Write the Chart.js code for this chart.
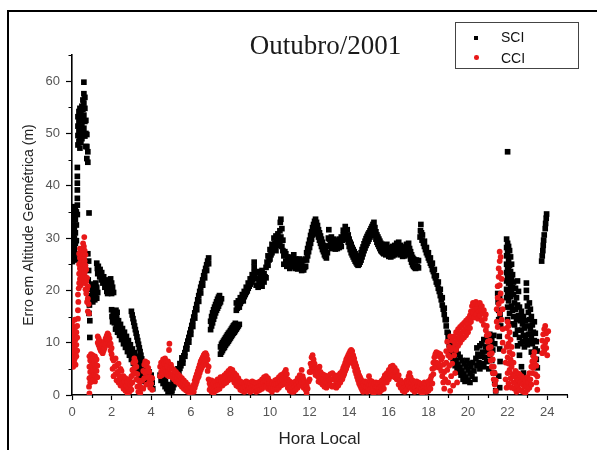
<!DOCTYPE html>
<html lang="pt-BR">
<head>
<meta charset="utf-8">
<title>Outubro/2001</title>
<script src="https://cdn.jsdelivr.net/npm/chart.js"></script>
<style>
  html, body { margin: 0; padding: 0; background: #fff; overflow: hidden; }
  #wrap { position: relative; width: 597px; height: 450px; overflow: hidden; }
  #frame { position: absolute; left: 7px; top: 10px; width: 640px; height: 480px;
           border-left: 2px solid #000; border-top: 2px solid #000; }
  #myChart { position: absolute; left: 0; top: 0; }
  #titulo { position: absolute; left: 225px; top: 32px; width: 201px; text-align: center;
            font-family: "Liberation Serif", "Times New Roman", serif; font-size: 27px;
            line-height: 27px; color: #1a1a1a; white-space: nowrap; }
  #legenda { position: absolute; left: 455px; top: 22px; width: 124px; height: 47px;
             box-sizing: border-box; border: 1.5px solid #444; background: #fff;
             font-family: "Liberation Sans", Arial, sans-serif; font-size: 14px; color: #111; }
  #legenda span { position: absolute; line-height: 16px; }
  .mk { position: absolute; }
</style>
</head>
<body>
<div id="wrap">
  <canvas id="myChart" width="597" height="450"></canvas>
  <div id="frame"></div>
  <div id="titulo">Outubro/2001</div>
  <div id="legenda">
    <div class="mk" style="left:18px;top:12.5px;width:4px;height:4px;background:#000;"></div>
    <span style="left:45px;top:5.5px;">SCI</span>
    <div class="mk" style="left:18px;top:32px;width:4.6px;height:4.6px;border-radius:50%;background:#e81818;"></div>
    <span style="left:45px;top:27px;">CCI</span>
  </div>
</div>
<script>
"use strict";

const horaTicks = [0, 2, 4, 6, 8, 10, 12, 14, 16, 18, 20, 22, 24];
const horaMinor = [1, 3, 5, 7, 9, 11, 13, 15, 17, 19, 21, 23, 25];
const erroTicks = [0, 10, 20, 30, 40, 50, 60];
const erroMinor = [5, 15, 25, 35, 45, 55, 65];

// SCI: [hora local, erro (m)]
const sci = [
    [0.02,25.5],[0.02,27.5],[0.02,29.5],[0.02,31.5],[0.02,33.5],[0.02,35.5],
    [0.07,26.5],[0.07,28.5],[0.07,30.5],[0.07,32.5],[0.07,34.5],
    [0.12,25.8],[0.12,28],[0.12,30],[0.12,32],[0.12,34],[0.12,36],
    [0.17,27],[0.17,29],[0.17,31],[0.17,33.5],[0.17,35.5],
    [0.22,26],[0.22,29.5],[0.22,32.5],[0.22,35],
    [0.27,34.5],[0.27,36.3],[0.27,37.6],[0.27,39.2],[0.27,40.5],[0.27,41.8],[0.27,43.5],
    [0.3,47.8],[0.3,49.6],[0.3,51.4],[0.3,53.2],
    [0.35,48.5],[0.35,50.4],[0.35,52.3],[0.35,54.2],
    [0.4,47.2],[0.4,49.2],[0.4,51],[0.4,53],[0.4,54.8],
    [0.45,48.3],[0.45,50.3],[0.45,52.4],[0.45,54],
    [0.5,49],[0.5,51.3],[0.5,53.4],[0.5,55.2],
    [0.55,50],[0.55,52.4],[0.55,54.6],[0.55,56.4],
    [0.6,51],[0.6,53.5],[0.6,55.8],[0.6,57.6],[0.6,59.8],
    [0.65,49.5],[0.65,52.3],[0.65,54.8],[0.65,56.9],
    [0.7,47.5],[0.7,50],[0.7,52.5],
    [0.75,45.2],[0.75,47.5],[0.75,49.8],
    [0.8,44.5],[0.8,46.5],
    [0.86,34.8],[0.8,27],[0.84,25.6],[0.84,23.8],[0.82,22],[0.86,20.5],[0.84,18.8],
    [0.88,17.2],[0.86,15.6],[0.9,14.2],[0.9,11],
    [0.95,18],[0.95,20.2],[1.0,19],[1.0,21.2],[1.05,17.8],[1.05,20],[1.1,18.8],[1.1,21],
    [1.15,18.2],[1.15,20.4],[1.2,19.2],[1.2,21.4],[1.25,18.5],[1.25,20.6],[1.3,19.6],
    [1.25,25.2],[1.28,24.2],[1.3,23.2],[1.33,24.6],[1.36,23.6],[1.4,22.6],[1.42,24],[1.45,23],
    [1.48,22],[1.5,23.4],[1.53,22.4],[1.56,21.4],[1.6,22.6],[1.63,21.6],[1.66,20.6],[1.7,21.8],
    [1.73,20.8],[1.76,19.8],[1.8,21],[1.8,19.4],[1.85,22],[1.85,20.4],[1.9,21.2],[1.9,19.6],
    [1.95,22.2],[1.95,20.2],[2.0,21.4],[2.0,19.4],[2.05,20.6],[2.1,19.6],
    [2.0,16.3],[2.02,15],[2.05,14],[2.08,16],[2.1,14.8],[2.14,13.8],[2.18,15.5],[2.22,16.2],
    [2.25,14.5],[2.28,15.8],[2.3,13.5],
    [2.2,12.6],[2.2,14.6],[2.25,13.3],[2.25,15],[2.3,12],[2.3,13.9],[2.35,12.8],[2.35,14.2],
    [2.4,11.4],[2.4,13.2],[2.45,12],[2.45,13.5],[2.5,10.6],[2.5,12.3],[2.55,11.3],[2.55,12.7],
    [2.6,9.8],[2.6,11.6],[2.65,10.6],[2.65,12],[2.7,9.1],[2.7,10.9],[2.75,9.8],[2.75,11.2],
    [2.8,8.3],[2.8,10],[2.85,9],[2.85,10.4],[2.9,7.6],[2.9,9.3],[2.95,8.3],[2.95,9.6],
    [3.0,6.8],[3.0,8.6],[3.05,7.5],[3.05,8.8],[3.1,6.1],[3.1,7.8],[3.15,6.8],[3.15,8.1],
    [3.2,5.3],[3.2,7.1],[3.25,6.1],[3.25,7.4],[3.3,4.6],[3.3,6.3],[3.35,5.3],[3.35,6.6],
    [3.4,3.8],[3.4,5.6],[3.45,4.6],[3.45,5.9],[3.5,3.1],[3.5,4.9],[3.55,3.8],[3.6,2.6],[3.6,4.2],
    [3.0,16],[3.04,15.3],[3.08,14.6],[3.12,13.9],[3.16,13.2],[3.2,12.5],[3.24,11.8],[3.28,11.1],
    [3.32,10.4],[3.36,9.7],[3.4,9],[3.44,8.3],[3.48,7.6],[3.52,6.9],[3.56,6.2],[3.6,5.5],
    [3.65,5.2],[3.7,3.6],[3.7,5.6],[3.75,4.4],[3.8,2.8],[3.8,5],[3.85,3.6],[3.9,2.2],[3.9,4.4],
    [3.95,3],[4.0,1.6],[4.0,3.8],[4.05,2.4],[4.08,1.2],
    [4.45,3.8],[4.5,2.8],[4.55,3.6],[4.6,2.2],[4.65,3],[4.7,1.6],[4.72,2.6],[4.78,1.2],[4.8,2],
    [4.85,0.7],[4.88,1.5],[4.92,0.3],[4.95,1],[5.0,0.4],
    [5.0,1.2],[5.05,0.8],[5.05,1.9],[5.1,1.4],[5.1,2.5],[5.15,2.0],[5.15,3],[5.2,2.4],[5.2,3.4],
    [5.25,2.9],[5.25,4],[5.3,3.4],[5.3,4.4],[5.35,4],[5.35,5],[5.4,4.5],[5.45,5.1],[5.45,6],
    [5.5,5.6],[5.55,6.2],[5.55,7.1],[5.6,6.8],[5.65,7.5],[5.7,8.1],[5.75,8.9],[5.8,9.6],
    [5.85,10.3],[5.9,11],[5.95,11.8],[6.0,12.5],[6.05,13.3],[6.1,14.1],[6.15,14.9],[6.2,15.7],
    [6.25,16.5],[6.3,17.3],[6.35,18.2],[6.4,19],[6.45,19.8],[6.5,20.6],[6.55,21.3],[6.6,22],
    [6.65,22.8],[6.7,23.5],[6.75,24.2],[6.8,24.9],[6.85,25.6],[6.9,26.2],
    [5.6,6.1],[5.7,7.4],[5.8,8.8],[5.9,10.1],[6.0,11.6],[6.1,13.1],[6.2,14.7],[6.3,16.3],
    [6.4,17.9],[6.5,19.5],[6.6,21],[6.7,22.4],[6.8,23.8],[6.9,25.1],
    [7.0,12.5],[7.0,14.1],[7.05,13.2],[7.05,15],[7.1,13.8],[7.1,15.7],[7.15,14.5],[7.15,16.3],
    [7.2,15.1],[7.2,16.8],[7.25,15.7],[7.25,17.3],[7.3,16.2],[7.3,17.8],[7.35,16.6],[7.35,18.3],
    [7.4,17],[7.4,18.7],[7.45,17.5],[7.45,19],[7.5,17.8],[7.55,18.4],
    [7.5,7.8],[7.5,9.2],[7.55,8.2],[7.55,9.7],[7.6,8.5],[7.6,10],[7.65,8.9],[7.65,10.3],
    [7.7,9.1],[7.7,10.6],[7.75,9.5],[7.75,10.9],[7.8,9.8],[7.8,11.2],[7.85,10],[7.85,11.5],
    [7.9,10.3],[7.9,11.8],[7.95,10.6],[7.95,12],[8.0,10.9],[8.0,12.3],[8.05,11.2],[8.05,12.6],
    [8.1,11.5],[8.1,12.9],[8.15,11.8],[8.15,13.2],[8.2,12],[8.2,13.4],[8.25,12.3],[8.25,13.7],
    [8.3,12.6],[8.35,12.9],[8.4,13.2],[8.45,13.5],
    [8.3,16.2],[8.3,17.6],[8.35,16.6],[8.4,17.2],[8.4,18],[8.45,16.8],[8.5,17.5],[8.5,18.6],
    [8.55,17.9],[8.6,18.3],[8.6,19.2],[8.65,18],[8.7,18.8],[8.7,19.8],[8.75,19.2],[8.8,19.6],
    [8.8,20.6],[8.85,19.9],[8.9,20.4],[8.9,21.4],[8.95,20.8],[9.0,21.2],[9.0,22.2],[9.05,21.6],
    [9.1,22],[9.1,23],[9.15,22.4],
    [9.2,23.4],[9.2,24.4],[9.2,25.4],[9.22,22.5],
    [9.3,21],[9.3,23.4],[9.35,22.2],[9.4,20.6],[9.4,23.6],[9.45,21.8],[9.5,21.3],[9.5,23],
    [9.55,22.4],[9.6,20.8],[9.6,23.8],[9.65,22],[9.7,21.6],[9.7,23.2],[9.75,22.6],[9.8,22.4],[9.8,24.4],
    [9.85,25.4],[9.9,24.8],[9.9,26.6],[9.95,25.8],[10.0,26],[10.0,27.8],[10.05,26.8],[10.1,27.2],
    [10.1,28.8],[10.15,28],[10.2,28.2],[10.2,30],[10.25,29],[10.3,27.6],[10.3,30.4],[10.35,29.2],
    [10.4,28.6],[10.4,30.8],[10.45,29.6],[10.5,29],[10.5,31.4],[10.52,33],[10.55,33.6],[10.55,30.2],
    [10.6,28.4],[10.6,31.8],[10.65,27.6],[10.65,29.6],
    [10.7,26.6],[10.7,25],[10.75,27.4],[10.8,25.6],[10.8,27],[10.85,24.6],[10.9,26.4],[10.95,25.2],
    [11.0,24.2],[11.0,26],[11.05,25],[11.1,26.3],[11.1,24.5],[11.15,25.6],[11.2,24.8],[11.2,26.8],
    [11.25,25.2],[11.3,24.2],[11.3,26],[11.35,25],[11.4,24.1],[11.4,25.7],[11.45,24.8],[11.5,26],
    [11.5,24.3],[11.55,25.3],[11.6,23.8],[11.6,25.4],[11.65,24.6],[11.7,23.9],[11.7,25.8],[11.75,24.4],
    [11.8,24.6],[11.8,26],[11.85,25.8],[11.85,27.2],[11.9,26.6],[11.9,28],[11.95,27.4],[11.95,28.8],
    [12.0,28.2],[12.0,29.6],[12.05,29],[12.05,30.5],[12.1,29.8],[12.1,31.2],[12.15,30.6],[12.15,32],
    [12.2,31.2],[12.2,32.6],[12.25,31.8],[12.25,33.2],[12.3,32.4],[12.3,33.6],[12.35,31.5],[12.35,33],
    [12.4,30.8],[12.4,32.4],
    [12.45,30.2],[12.45,31.6],[12.5,29.6],[12.5,31],[12.55,29],[12.55,30.4],[12.6,28.4],[12.6,29.8],
    [12.65,27.8],[12.65,29.2],[12.7,27.4],[12.7,28.6],[12.75,26.8],[12.75,28.2],[12.8,26.5],
    [12.8,27.8],[12.85,26.2],[12.9,27.2],
    [12.95,28.5],[12.95,30],[12.97,31.6],
    [13.0,28.4],[13.0,29.8],[13.05,28.8],[13.1,28],[13.1,30.2],[13.15,29],[13.2,28.2],[13.2,29.8],
    [13.25,28.8],[13.3,27.9],[13.3,29.6],[13.35,28.6],[13.4,28],[13.4,29.4],[13.45,28.8],[13.5,28.2],
    [13.5,29.8],[13.55,29],[13.6,28.4],[13.6,30.2],
    [13.65,29.6],[13.7,30.5],[13.7,31.5],[13.75,30],[13.8,31],[13.8,32.2],[13.85,30.4],[13.9,29.8],
    [13.9,31.6],[13.95,29.2],[13.95,30.6],
    [14.0,28.4],[14.0,29.8],[14.05,27.8],[14.05,29.2],[14.1,27.2],[14.1,28.8],[14.15,26.8],[14.15,28.2],
    [14.2,26.4],[14.2,27.8],[14.25,26],[14.25,27.4],[14.3,25.6],[14.3,27],[14.35,25.3],[14.35,26.6],
    [14.4,25],[14.4,26.4],[14.45,24.8],[14.45,26.2],[14.5,25],[14.5,26.4],[14.55,25.4],
    [14.6,25.8],[14.6,27.2],[14.65,26.4],[14.65,27.8],[14.7,27],[14.7,28.3],[14.75,27.6],[14.75,28.9],
    [14.8,28.1],[14.8,29.4],[14.85,28.6],[14.85,29.9],[14.9,29],[14.9,30.3],[14.95,29.4],[14.95,30.7],
    [15.0,29.8],[15.0,31],[15.05,30.2],[15.05,31.4],[15.1,30.5],[15.1,31.8],[15.15,30.8],[15.15,32.2],
    [15.2,31],[15.2,32.6],[15.25,31.2],[15.25,33],[15.3,30.6],[15.3,32],
    [15.35,29.8],[15.35,31.2],[15.4,29.2],[15.4,30.6],[15.45,28.8],[15.45,30.2],[15.5,28.4],[15.5,29.8],
    [15.55,28],[15.55,29.4],[15.6,27.6],[15.6,29],[15.65,27.4],[15.65,28.8],[15.7,27.2],[15.7,28.6],
    [15.75,27],[15.75,28.4],[15.8,27.2],[15.8,28.6],[15.85,26.8],[15.9,27.4],[15.9,28.8],[15.95,27],
    [16.0,26.5],[16.0,28.2],[16.05,27.2],[16.1,26.4],[16.1,28],[16.15,27.4],[16.2,26.6],[16.2,28.4],
    [16.25,27.6],[16.3,26.8],[16.3,28.6],[16.35,27.8],[16.4,27],[16.4,29],[16.45,28],[16.5,27.2],
    [16.5,29.2],[16.55,28.2],[16.6,26.8],[16.6,28.6],[16.65,27.6],[16.7,26.5],[16.7,28.2],[16.75,27.2],
    [16.8,26.6],[16.8,28.3],[16.85,27.4],[16.9,26.8],[16.9,28.8],[16.95,27.8],[17.0,27],[17.0,29],[17.05,28],
    [17.1,26],[17.1,27.4],[17.15,25.4],[17.15,26.8],[17.2,24.9],[17.2,26.3],[17.25,24.6],[17.25,26],
    [17.3,24.4],[17.3,25.8],[17.35,24.2],[17.35,25.6],[17.4,24.4],[17.4,25.8],[17.45,24.6],[17.5,24.3],[17.5,25.7],
    [17.58,30.2],[17.6,31.4],[17.62,32.6],[17.65,31],[17.68,29.6],[17.7,30.6],
    [17.75,29],[17.8,28.4],[17.8,29.4],[17.85,27.8],[17.9,27.2],[17.9,28.2],[17.95,26.8],[18.0,26.2],
    [18.0,27.2],[18.05,25.8],[18.1,25.2],[18.1,26.2],[18.15,24.8],[18.2,24],[18.2,25.2],[18.25,23.6],
    [18.3,22.8],[18.3,24],[18.35,22.4],[18.4,21.6],[18.4,22.8],[18.45,21.2],[18.5,20.4],[18.5,21.6],
    [18.55,19.8],[18.6,19],[18.6,20.2],[18.65,18.2],[18.7,17.2],[18.7,18.6],[18.75,16.4],[18.8,15.4],
    [18.8,16.6],[18.85,14.4],[18.9,13.2],[18.9,14.4],[18.95,12],[19.0,10.8],[19.0,11.8],[19.05,9.6],[19.1,8.6],
    [19.1,10.6],[19.15,9],[19.15,7.2],[19.2,10],[19.2,8.2],[19.25,6.4],[19.3,9.2],[19.3,7.4],[19.35,5.6],
    [19.4,8.4],[19.4,6.6],[19.45,4.8],[19.5,7.8],[19.5,5.8],[19.55,4.4],[19.6,7.2],[19.6,5.2],[19.65,3.8],
    [19.7,6.6],[19.7,4.6],[19.75,3],[19.8,6],[19.8,4],[19.85,2.6],[19.9,5.4],[19.9,3.4],[19.95,6.6],
    [20.0,4.8],[20.0,2.8],[20.05,6],[20.1,4.2],[20.1,2.4],[20.15,5.4],[20.2,3.6],[20.25,6.2],[20.3,4.6],[20.35,3],
    [20.4,7],[20.45,9],[20.45,5.6],[20.5,7.8],[20.55,6.2],[20.6,9.4],[20.6,5],[20.65,7.4],[20.7,9.8],
    [20.7,6],[20.75,8.2],[20.8,10.6],[20.8,5.4],[20.85,7.2],[20.9,9.2],[20.95,11],[20.95,6.4],[21.0,8.4],
    [21.05,10.2],[21.05,5],[21.1,11.6],[21.1,7.6],[21.15,9.4],[21.2,10.8],[21.2,6.6],[21.25,8.6],
    [21.3,11.4],[21.3,4.2],[21.35,9.8],[21.35,2.4],[21.4,0.8],
    [21.5,19.4],[21.52,17.8],[21.55,16.2],[21.55,14.4],[21.6,18.4],[21.62,15.4],[21.65,13.2],
    [21.58,11.2],[21.6,8.8],[21.62,6.4],[21.55,3.6],[21.6,1.4],
    [21.95,29.8],[21.95,28.2],[21.95,26.6],[21.95,25],[21.95,23.4],[21.95,21.8],[21.95,20.2],[21.95,18.6],
    [22.0,29],[22.0,27.2],[22.0,24.4],[22.0,22.6],[22.0,19.6],[22.0,16.8],[22.0,14.4],
    [22.05,28.4],[22.05,25.8],[22.05,23.8],[22.05,21.4],[22.05,18],
    [22.1,27.6],[22.1,24.8],[22.1,22.2],[22.1,20],[22.1,15.6],
    [22.15,26.4],[22.15,23.6],[22.15,21],[22.15,18.8],
    [22.2,25],[22.2,22.4],[22.2,19.8],[22.2,17],[22.2,13.6],
    [22.25,23],[22.25,20.6],[22.25,16.2],
    [22.0,46.5],
    [22.3,21.6],[22.3,19.2],[22.3,15],[22.35,17.6],[22.35,13.4],[22.4,20.4],[22.4,16.4],[22.4,11.6],
    [22.45,18.6],[22.45,14.4],[22.5,21.8],[22.5,17.2],[22.5,12.4],[22.5,9.4],[22.55,19.8],[22.55,15.2],
    [22.6,16.8],[22.6,11],[22.6,7.6],[22.65,14.2],[22.65,9.8],[22.7,16],[22.7,12.4],[22.7,5.4],
    [22.75,13.6],[22.75,10.2],[22.8,15],[22.8,11.4],[22.8,4.2],[22.85,12.8],[22.85,9.2],[22.9,14.2],
    [22.9,10.6],[22.95,21.4],[22.95,20],[22.95,18.6],[23.0,17],[23.0,13.2],[23.0,9.6],[23.05,15.8],
    [23.05,11.6],[23.1,17.6],[23.1,14.4],[23.1,10.4],[23.15,16.4],[23.15,12.6],[23.2,15],[23.2,11],
    [23.2,8.2],[23.25,13.4],[23.25,9.8],[23.3,12],[23.3,7.8],[23.35,14],[23.35,10.4],[23.4,11.8],
    [23.4,8.8],[23.45,10.2],[23.45,6.8],[23.5,8.4],[23.5,5.2],
    [23.72,25.6],[23.75,26.6],[23.78,27.6],[23.8,28.6],[23.82,29.6],[23.85,30.6],[23.9,31.8],
    [23.92,32.8],[23.95,33.8],[23.97,34.6]
];

// CCI: [hora local, erro (m)]
const cci = [
    [0.02,6],[0.02,8],[0.02,10],[0.02,12],[0.02,14],[0.06,5.4],[0.06,7.2],[0.06,9],[0.06,11],[0.06,13],
    [0.1,6.4],[0.1,8.4],[0.1,10.4],[0.1,12.4],[0.14,7],[0.14,9.2],[0.14,11.6],[0.14,14.4],
    [0.18,5.8],[0.18,8],[0.18,10.6],[0.18,13],[0.22,7.4],[0.22,9.6],[0.22,12],
    [0.26,8.5],[0.26,11],[0.26,13.2],[0.3,14.6],[0.3,16.2],[0.32,17.8],[0.3,19.2],[0.34,20.4],
    [0.36,21.4],[0.36,23.2],[0.36,25],[0.36,27],[0.4,22.2],[0.4,24.2],[0.4,26.2],[0.4,28],
    [0.44,21],[0.44,23],[0.44,25.4],[0.44,27.4],[0.48,22],[0.48,24],[0.48,26.4],
    [0.52,21.6],[0.52,23.4],[0.52,25.6],[0.52,27.8],[0.56,22.6],[0.56,24.8],[0.56,26.8],[0.56,29],
    [0.6,22],[0.6,24],[0.6,26.2],[0.6,28.4],[0.62,30.2],[0.64,21.4],[0.64,23.4],[0.64,25.6],[0.64,27.6],
    [0.68,20.2],[0.68,22.6],[0.68,24.8],[0.68,26.8],[0.72,19.4],[0.72,21.8],[0.72,24],
    [0.76,17.8],[0.76,20.2],[0.76,22.4],[0.8,16],[0.8,18.4],[0.8,20.8],[0.84,17.4],[0.86,15.6],
    [0.86,1.6],[0.88,0.3],
    [0.88,3.2],[0.88,5.4],[0.88,7.4],[0.92,2.4],[0.92,4.4],[0.92,6.6],[0.96,3.4],[0.96,5.6],[0.96,7.8],
    [1.0,2.6],[1.0,4.6],[1.0,6.8],[1.04,3.6],[1.04,5.8],[1.04,7.6],[1.08,2.8],[1.08,4.8],[1.08,7],
    [1.12,3.8],[1.12,6],[1.16,2.6],[1.16,4.8],[1.16,7.4],[1.2,3.6],[1.2,5.8],[1.24,4.6],[1.24,6.8],
    [1.28,3.4],[1.28,5.6],
    [1.3,10],[1.3,11.2],[1.35,9.5],[1.35,10.8],[1.4,9],[1.4,10.3],[1.45,8.5],[1.45,9.8],[1.5,8.3],
    [1.5,9.5],[1.55,8],[1.55,9.3],[1.6,8.5],[1.6,9.8],[1.65,9],[1.65,10.3],[1.7,9.5],[1.7,10.8],
    [1.75,10],[1.75,11.3],[1.8,10.5],[1.8,11.8],[1.85,10],[1.85,11.5],[1.9,9.5],[1.9,10.8],
    [1.95,8.5],[1.95,9.8],[2.0,7.8],[2.0,9],[2.05,7],
    [2.05,5],[2.1,6.6],[2.1,3.6],[2.15,5.4],[2.2,4],[2.2,7],[2.25,2.8],[2.25,5.6],[2.3,4.4],[2.35,2.4],
    [2.35,6],[2.4,3.6],[2.45,5],[2.45,1.8],[2.5,3],[2.5,4.6],[2.55,2.2],[2.6,3.6],[2.6,1.2],
    [2.65,2.6],[2.7,0.8],[2.7,3.2],[2.75,1.8],[2.8,0.4],[2.8,2.6],[2.85,1.4],[2.9,3],[2.9,0.6],
    [2.95,2],[3.0,3.6],[3.0,1],[3.05,4.8],[3.05,2.4],[3.1,6.2],[3.1,4],[3.15,7],[3.15,5.2],
    [3.2,6.4],[3.2,4.2],[3.25,5.4],[3.25,3],[3.3,4],[3.3,1.6],[3.35,2.8],[3.35,0.6],[3.4,1.8],
    [3.45,0.4],[3.45,2.6],[3.5,1.4],
    [3.55,2.8],[3.6,4.6],[3.6,1.2],[3.65,5.8],[3.65,3.2],[3.7,6.4],[3.7,4.2],[3.75,5.6],[3.75,2],
    [3.8,4.6],[3.8,6.2],[3.85,3.4],[3.85,5.2],[3.9,2.4],[3.9,4.4],[3.95,1.4],[3.95,3.4],[4.0,2.2],
    [4.05,1],[4.05,3.2],
    [4.45,3.6],[4.45,5.4],[4.5,4.4],[4.5,6.2],[4.55,3.8],[4.55,5.6],[4.6,4.8],[4.6,6.8],[4.65,4.2],
    [4.65,6],[4.7,5],[4.7,7],[4.75,4.4],[4.75,6.2],[4.8,3.8],[4.8,5.6],[4.85,4.4],[4.85,6.4],
    [4.9,8.6],[4.92,9.8],[4.9,3.6],[4.95,5],[5.0,4],[5.0,5.8],
    [5.05,3.4],[5.05,5.2],[5.1,4],[5.15,3],[5.15,4.8],[5.2,3.6],[5.25,2.6],[5.25,4.4],[5.3,3.4],
    [5.35,2.4],[5.35,4],[5.4,3],[5.45,2],[5.45,3.6],[5.5,2.6],[5.55,1.6],[5.55,3.2],[5.6,2.2],
    [5.65,1.2],[5.65,2.8],[5.7,1.8],[5.75,0.9],[5.75,2.4],[5.8,1.4],[5.85,0.6],[5.85,2],[5.9,1.2],
    [5.95,0.5],[6.0,1.4],[6.05,0.6],
    [6.1,1.2],[6.15,2],[6.15,0.6],[6.2,2.8],[6.2,1.4],[6.25,3.4],[6.25,2],[6.3,4],[6.3,2.6],
    [6.35,4.6],[6.35,3.2],[6.4,5.2],[6.4,3.6],[6.45,5.8],[6.45,4.2],[6.5,6.4],[6.5,4.8],[6.55,6.8],
    [6.55,5.2],[6.6,7.2],[6.6,5.6],[6.65,7.6],[6.65,6],[6.7,7.9],[6.7,6.2],[6.75,8],[6.75,6.4],
    [6.8,7.6],[6.8,5.8],[6.85,6.8],[6.85,4.6],[6.9,5.4],[6.9,3],[6.95,2.2],[6.95,1],
    [7.0,1.6],[7.05,0.6],[7.05,2.8],[7.1,1.4],[7.15,2.2],[7.15,0.4],[7.2,1.2],[7.25,2.6],[7.25,0.8],
    [7.3,1.8],[7.35,1],[7.35,3],[7.4,2],[7.45,1.2],[7.45,2.8],
    [7.5,2],[7.5,3.4],[7.55,2.6],[7.6,3.4],[7.6,1.8],[7.65,2.8],[7.7,3.8],[7.7,2.2],[7.75,3.2],
    [7.8,4.2],[7.8,2.4],[7.85,3.6],[7.9,4.6],[7.9,2.8],[7.95,3.8],[8.0,5],[8.0,3.2],[8.05,4.2],
    [8.1,4.8],[8.1,3],[8.15,3.8],[8.2,4.2],[8.2,2.4],[8.25,3.2],[8.3,3.8],[8.3,1.8],[8.35,2.8],
    [8.4,1.6],[8.4,3.2],[8.45,2.2],[8.5,1],[8.5,2.6],
    [8.55,1.6],[8.6,0.8],[8.6,2.4],[8.65,1.4],[8.7,2],[8.7,0.6],[8.75,1.6],[8.8,2.6],[8.8,0.8],
    [8.85,1.8],[8.9,1],[8.9,2.4],[8.95,1.4],[9.0,0.6],[9.0,2.2],[9.05,1.4],[9.1,2.6],[9.1,0.8],
    [9.15,1.8],[9.2,1],[9.2,2.4],[9.25,1.6],[9.3,0.6],[9.3,2.2],[9.35,1.4],[9.4,2.4],[9.4,0.8],
    [9.45,1.6],[9.5,2.6],[9.5,1],[9.55,1.8],[9.6,3],[9.6,1.2],[9.65,2.4],[9.7,3.4],[9.7,1.6],
    [9.75,2.8],[9.8,3.6],[9.8,1.6],[9.85,2.6],[9.9,3.2],[9.9,1.2],[9.95,2.2],[10.0,1],[10.0,2.6],
    [10.05,1.6],[10.1,0.6],[10.1,2.2],[10.15,1.2],[10.2,2],
    [10.25,1.2],[10.25,2.8],[10.3,2],[10.35,3],[10.35,1],[10.4,2.2],[10.45,3.4],[10.45,1.4],[10.5,2.6],
    [10.55,3.8],[10.55,1.8],[10.6,3],[10.65,4],[10.65,2],[10.7,3.2],[10.75,4.4],[10.75,2.2],[10.8,4.8],
    [10.8,3.2],[10.85,2.4],[10.85,4],[10.9,1.4],[10.9,3],[10.95,2],[11.0,0.8],[11.0,2.6],[11.05,1.6],
    [11.1,0.6],[11.1,2.2],[11.15,1.2],[11.2,2.4],[11.2,0.6],[11.25,1.6],[11.3,2.6],[11.3,1],[11.35,2],
    [11.4,3.2],[11.4,1.4],[11.45,2.4],[11.5,3.8],[11.5,1.8],[11.55,3],[11.6,4.8],[11.6,2.4],[11.65,3.6],
    [11.7,3],[11.7,1.4],[11.75,2.2],[11.8,1],[11.85,1.8],[11.85,0.4],[11.9,1.2],
    [11.95,2.6],[12.0,4.4],[12.0,3],[12.05,6],[12.05,4.4],[12.1,7.2],[12.1,5.4],[12.15,7.6],[12.15,6],
    [12.2,6.8],[12.2,5],[12.25,6],[12.25,4.4],[12.3,5.2],[12.3,3.8],[12.35,4.6],[12.4,3.6],[12.4,5],
    [12.45,2.6],[12.45,4.2],[12.5,3.4],[12.5,5.4],[12.55,2.4],[12.55,4.4],[12.6,3.2],[12.65,2],[12.65,4],
    [12.7,3],[12.75,1.6],[12.75,3.8],[12.8,2.6],[12.85,3.6],[12.85,1.4],[12.9,2.4],[12.95,3.6],[12.95,1.8],
    [13.0,2.8],[13.05,4],[13.05,2],[13.1,3],[13.15,4.2],[13.15,1.6],[13.2,3],[13.25,3.8],[13.25,1.8],
    [13.3,2.8],[13.35,3.6],[13.35,1.4],[13.4,2.6],[13.45,3.8],[13.45,1.8],[13.5,3],[13.55,4.2],[13.55,2.4],[13.6,3.4],
    [13.65,4.6],[13.65,3],[13.7,5.2],[13.7,3.6],[13.75,5.6],[13.75,4],[13.8,6.2],[13.8,4.6],[13.85,6.8],
    [13.85,5],[13.9,7.2],[13.9,5.6],[13.95,7.6],[13.95,6],[14.0,8],[14.0,6.4],[14.05,8.4],[14.05,6.6],
    [14.1,8.6],[14.1,7],[14.15,8.4],[14.15,6.6],[14.2,7.6],[14.2,6],[14.25,7],[14.25,5.4],
    [14.3,6.2],[14.3,4.6],[14.35,5.6],[14.35,4],[14.4,5],[14.4,3.4],[14.45,4.4],[14.45,2.8],[14.5,3.8],
    [14.5,2.2],[14.55,3.4],[14.55,1.8],[14.6,3],[14.6,1.4],[14.65,2.6],[14.65,1],[14.7,2.2],[14.7,0.6],
    [14.75,1.8],[14.8,2.6],[14.8,0.8],[14.85,1.6],[14.9,2.4],[14.9,0.6],[14.95,1.4],[15.0,3.6],[15.0,2],
    [15.05,2.8],[15.05,1],
    [15.1,2],[15.15,0.6],[15.15,2.6],[15.2,1.4],[15.25,2.2],[15.25,0.4],[15.3,1.2],[15.35,2.4],[15.35,0.8],
    [15.4,1.6],[15.45,0.6],[15.45,2.2],[15.5,1.2],[15.55,2.4],[15.55,0.6],[15.6,1.6],[15.65,2.8],[15.65,1],
    [15.7,2],[15.75,3.2],[15.75,1.2],
    [15.8,2.4],[15.8,3.8],[15.85,3],[15.9,4.2],[15.9,2.4],[15.95,3.4],[16.0,4.8],[16.0,3],[16.05,4],
    [16.1,5.4],[16.1,3.6],[16.15,4.6],[16.2,5.6],[16.2,3.8],[16.25,4.8],[16.3,5.2],[16.3,3.4],[16.35,4.4],
    [16.4,3],[16.4,4.6],[16.45,3.6],[16.5,2],[16.5,3.8],[16.55,2.8],
    [16.6,1.4],[16.6,2.8],[16.65,2],[16.7,0.8],[16.7,2.4],[16.75,1.4],[16.8,2.2],[16.8,0.6],[16.85,1.6],
    [16.9,2.8],[16.9,1],[16.95,2.2],[17.0,3.6],[17.0,1.8],[17.05,4.2],[17.05,2.6],[17.1,3.4],[17.1,1.4],
    [17.15,2.4],[17.2,1],[17.2,2.8],[17.25,1.8],[17.3,0.6],[17.3,2.2],[17.35,1.4],[17.4,2.6],[17.4,0.8],
    [17.45,1.8],[17.5,1],[17.5,2.4],
    [17.55,1.6],[17.6,0.6],[17.6,2.2],[17.65,1.2],[17.7,2],[17.7,0.4],[17.75,1.4],[17.8,2.4],[17.8,0.8],
    [17.85,1.6],[17.9,0.6],[17.9,2.2],[17.95,1.2],[18.0,2.6],[18.0,0.8],[18.05,1.8],[18.1,3],[18.1,1.2],
    [18.15,3.6],[18.2,5],[18.2,2.2],[18.25,6.2],[18.25,4],[18.3,7.2],[18.3,5.2],[18.35,7.8],[18.35,5.8],
    [18.4,8.2],[18.4,6.2],[18.45,7.6],[18.45,5.4],[18.5,8],[18.5,6],[18.55,7.4],[18.55,5.2],[18.6,7.8],
    [18.6,5.6],[18.65,6.8],[18.65,4.6],[18.7,7.2],[18.7,3.6],[18.75,5.8],[18.75,2.4],[18.8,4.4],
    [18.8,1.2],[18.85,3],
    [18.9,6.2],[18.9,8.4],[18.95,10.2],[18.95,4.8],[19.0,7.6],[19.0,2.4],[19.05,9.2],[19.05,5.6],
    [19.1,11.2],[19.1,7.2],[19.1,0.8],[19.15,8.6],[19.15,3.6],[19.2,10.4],[19.2,6],[19.25,9],[19.25,1.8],
    [19.3,11.2],[19.3,7.6],[19.35,9.8],[19.35,4.2],[19.4,12],[19.4,8.6],[19.45,10.6],[19.45,2.4],
    [19.5,12.6],[19.5,9.4],
    [19.55,11.2],[19.6,13],[19.6,10],[19.65,11.8],[19.7,13.4],[19.7,10.6],[19.75,12.2],[19.8,13.8],
    [19.8,11],[19.85,12.6],[19.9,14.2],[19.9,11.4],[19.95,13],[20.0,14.6],[20.0,12],[20.05,13.6],
    [20.1,15.2],[20.1,12.8],
    [20.15,16],[20.15,14],[20.2,17],[20.2,15],[20.25,17.6],[20.25,15.8],[20.3,17.2],[20.3,14.8],
    [20.35,16.4],[20.4,17.8],[20.4,15.4],[20.45,16.6],[20.5,17.4],[20.5,14.6],[20.55,16],[20.6,17.6],
    [20.6,15.2],[20.65,16.4],[20.7,17],[20.7,14.2],[20.75,15.6],[20.8,13.4],[20.8,16.2],[20.85,14.6],
    [20.9,12.4],[20.9,15.4],[20.95,13.2],[20.95,11.4],
    [21.0,10.2],[21.05,9],[21.05,11.6],[21.1,7.8],[21.1,10.4],[21.15,6.6],[21.15,9.2],[21.2,5.4],
    [21.2,8],[21.25,4.2],[21.25,6.8],[21.3,3],[21.3,5.4],[21.35,2],[21.35,4.2],[21.4,0.8],[21.4,2.8],
    [21.45,14],[21.45,16.4],[21.5,18.6],[21.5,20.8],[21.5,13],[21.55,22.6],[21.55,24.2],[21.55,17.4],
    [21.6,25.6],[21.6,27.4],[21.6,21],[21.6,15.6],[21.65,26.4],[21.65,23.4],[21.65,19.4],[21.7,22.2],
    [21.7,18],[21.7,14.4],[21.75,16.4],[21.75,12.6],[21.75,10],[21.8,8.4],
    [21.9,6.2],[21.9,3],[21.95,12.8],[21.95,9.2],[21.95,1.4],[22.0,14],[22.0,11.2],[22.0,7.2],[22.0,4.2],
    [22.05,13.2],[22.05,9.8],[22.05,6],[22.05,2.2],[22.1,12],[22.1,8.2],[22.1,4.8],[22.15,10.6],
    [22.15,6.8],[22.15,3.2],[22.2,9.2],[22.2,5.4],[22.2,1.4],[22.25,7.8],[22.25,4],[22.3,6.2],[22.3,2.4],
    [22.35,3.6],[22.35,1.2],[22.4,4.6],[22.4,2.2],[22.45,3.2],[22.45,0.6],[22.5,4.2],[22.5,1.8],
    [22.55,2.8],[22.6,4],[22.6,1],[22.65,2.4],[22.7,3.6],[22.7,0.8],[22.75,2],[22.8,3.2],[22.8,0.6],
    [22.85,1.6],[22.9,2.8],[22.9,0.4],[22.95,1.8],[23.0,3.4],[23.0,1],[23.05,2.4],[23.1,4.2],[23.1,1.4],
    [23.15,3],[23.2,5.4],[23.2,2],
    [23.25,4.2],[23.25,6.4],[23.3,5.2],[23.3,7.4],[23.35,6.2],[23.35,8.2],[23.4,7],[23.4,4],[23.45,5.6],
    [23.45,2.4],[23.5,1],[23.5,3.6],
    [23.75,8],[23.75,10.4],[23.8,9.2],[23.8,11.6],[23.85,8.4],[23.85,12.6],[23.9,10],[23.9,13.2],
    [23.95,9],[23.95,11.8],[24.0,7.6],[24.0,10.6],[24.05,12.2]
];

function toXY(arr) {
    return arr.map(p => ({ x: p[0], y: p[1] }));
}

// minor ticks, shorter than the major ones
const minorTicks = {
    id: 'minorTicks',
    afterDraw(chart) {
        const ctx = chart.ctx;
        const xs = chart.scales.x;
        const ys = chart.scales.y;
        const area = chart.chartArea;
        ctx.save();
        ctx.strokeStyle = '#000';
        ctx.lineWidth = 1.2;
        ctx.beginPath();
        for (let i = 0; i < horaMinor.length; i++) {
            const px = Math.round(xs.getPixelForValue(horaMinor[i])) + 0.5;
            ctx.moveTo(px, area.bottom);
            ctx.lineTo(px, area.bottom + 3);
        }
        for (let i = 0; i < erroMinor.length; i++) {
            const py = Math.round(ys.getPixelForValue(erroMinor[i])) + 0.5;
            ctx.moveTo(area.left, py);
            ctx.lineTo(area.left - 3.5, py);
        }
        ctx.stroke();
        ctx.restore();
    }
};

const tickFont = { family: '"Liberation Sans", Arial, sans-serif', size: 13 };

const ctx = document.getElementById('myChart').getContext('2d');
const myChart = new Chart(ctx, {
    type: 'scatter',
    data: {
        datasets: [{
            label: 'SCI',
            data: toXY(sci),
            pointStyle: 'rect',
            pointRadius: 4,
            borderWidth: 0,
            backgroundColor: '#000',
            order: 1
        },
        {
            label: 'CCI',
            data: toXY(cci),
            pointStyle: 'circle',
            pointRadius: 2.9,
            borderWidth: 0,
            backgroundColor: '#e81818',
            order: 0
        }]
    },
    options: {
        responsive: false,
        devicePixelRatio: 1,
        animation: false,
        events: [],
        layout: { padding: { left: 0, top: 55, right: 30, bottom: 0 } },
        plugins: {
            legend: { display: false },
            tooltip: { enabled: false }
        },
        scales: {
            x: {
                type: 'linear',
                min: 0,
                max: 25,
                afterBuildTicks: axis => { axis.ticks = horaTicks.map(v => ({ value: v })); },
                afterFit: axis => { axis.height = 55; },
                ticks: { color: '#555', font: tickFont, padding: 5, maxRotation: 0 },
                grid: { drawOnChartArea: false, drawTicks: true, tickLength: 5, tickWidth: 1.2, tickColor: '#000' },
                border: { display: true, color: '#000', width: 1.6 },
                title: {
                    display: true,
                    text: 'Hora Local',
                    color: '#222',
                    font: { family: '"Liberation Sans", Arial, sans-serif', size: 17 },
                    padding: { top: 0, bottom: 0 }
                }
            },
            y: {
                type: 'linear',
                min: 0,
                max: 65,
                afterBuildTicks: axis => { axis.ticks = erroTicks.map(v => ({ value: v })); },
                afterFit: axis => { axis.width = 72; },
                ticks: { color: '#555', font: tickFont, padding: 6 },
                grid: { drawOnChartArea: false, drawTicks: true, tickLength: 6, tickWidth: 1.2, tickColor: '#000' },
                border: { display: true, color: '#000', width: 1.6 },
                title: {
                    display: true,
                    text: 'Erro em Altitude Geométrica (m)',
                    color: '#222',
                    font: { family: '"Liberation Sans", Arial, sans-serif', size: 14 },
                    padding: { top: 21, bottom: 0 }
                }
            }
        }
    },
    plugins: [minorTicks]
});
</script>
</body>
</html>
